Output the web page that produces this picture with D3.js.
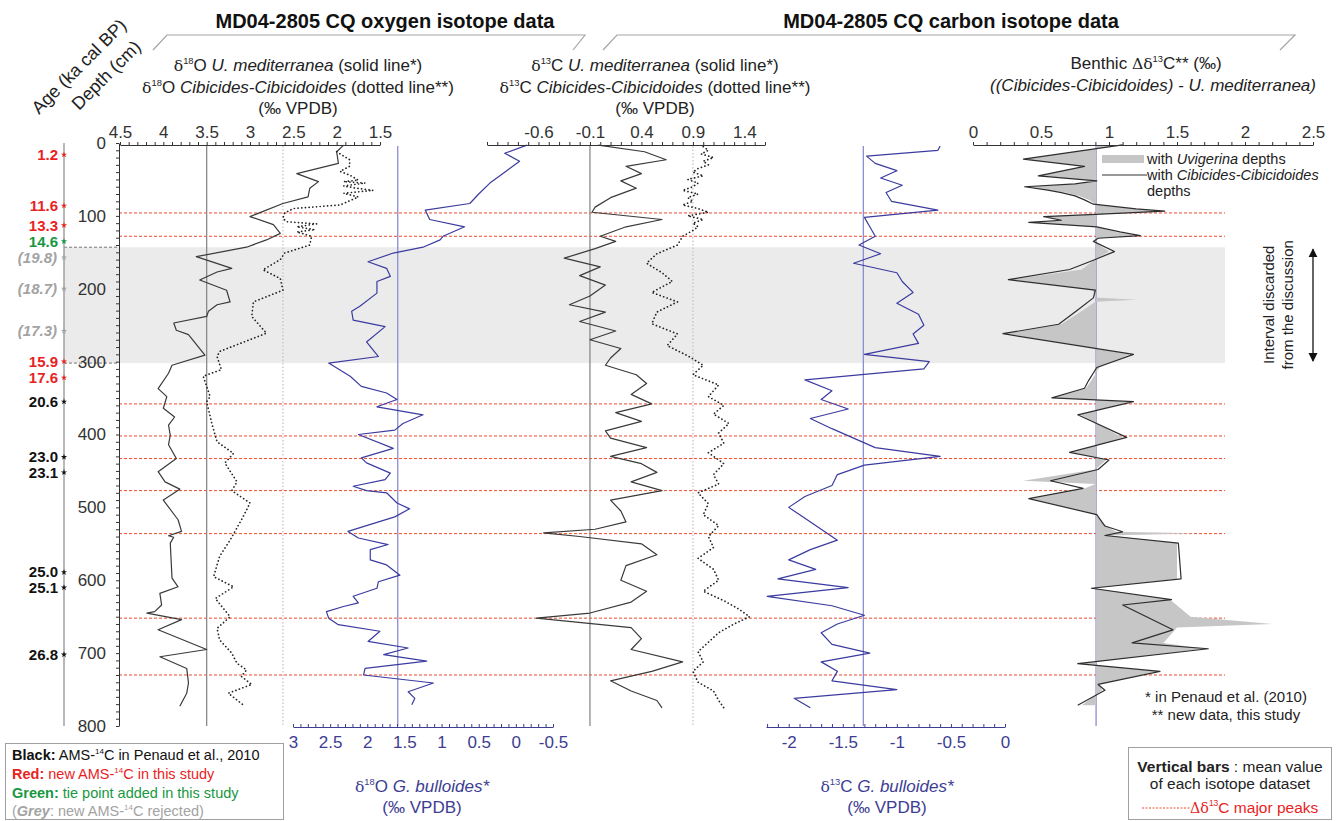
<!DOCTYPE html>
<html>
<head>
<meta charset="utf-8">
<script src="https://cdn.jsdelivr.net/npm/d3@7"></script>
<style>
  body { margin: 0; background: #fff; }
  text { font-family: "Liberation Sans", Arial, sans-serif; }
</style>
</head>
<body>
<svg id="chart" width="1338" height="821"></svg>
<script>
// ---------- data (depth in cm, value) ----------
// d18O U. mediterranea (solid)
var uMedO = [[3,1.92],[12,2.0],[28,1.98],[42,2.46],[53,2.21],[62,2.31],[74,2.33],[83,2.62],[101,3.0],[112,2.73],[124,2.65],[133,2.81],[143,3.04],[156,3.62],[172,3.21],[177,3.38],[188,3.58],[202,3.27],[218,3.23],[222,3.38],[231,3.48],[238,3.5],[247,3.88],[257,3.85],[263,3.71],[291,3.52],[305,3.9],[316,3.94],[337,4.06],[348,3.96],[364,4.0],[376,3.87],[387,3.94],[401,3.92],[414,3.94],[433,3.85],[451,4.06],[465,3.98],[475,3.81],[490,4.0],[517,3.83],[533,3.79],[539,3.94],[541,3.88],[549,3.92],[597,3.9],[609,3.83],[618,4.04],[634,4.02],[643,4.1],[645,4.19],[654,3.79],[668,4.06],[695,3.5],[705,4.04],[721,3.73],[741,3.71],[755,3.73],[773,3.81]];
// d18O Cibicides-Cibicidoides (dotted)
var cibO = [[12,2.0],[23,1.85],[32,1.85],[39,1.96],[44,1.85],[51,1.75],[53,1.92],[55,1.67],[59,1.92],[62,1.77],[65,1.58],[69,1.92],[74,1.75],[85,1.96],[90,2.5],[96,2.6],[103,2.62],[108,2.58],[111,2.23],[115,2.46],[119,2.25],[122,2.46],[128,2.29],[140,2.31],[151,2.6],[160,2.65],[174,2.85],[186,2.65],[202,2.62],[218,2.96],[238,2.98],[261,2.81],[286,3.35],[293,3.38],[311,3.33],[320,3.54],[334,3.5],[348,3.46],[355,3.5],[385,3.44],[410,3.38],[426,3.19],[439,3.29],[465,3.15],[477,3.21],[494,3.0],[513,3.08],[528,3.15],[545,3.23],[567,3.35],[595,3.42],[609,3.19],[625,3.4],[650,3.23],[666,3.38],[682,3.35],[700,3.21],[714,3.15],[723,3.04],[732,3.1],[743,2.98],[755,3.25],[771,3.08]];
// d18O G. bulloides
var bullO = [[3,-0.15],[14,0.15],[25,-0.05],[40,0.15],[55,0.35],[70,0.5],[83,0.62],[92,1.22],[105,1.16],[115,0.69],[128,0.98],[133,1.02],[143,1.25],[151,1.65],[163,1.99],[172,1.74],[183,1.69],[190,1.87],[206,1.87],[224,2.1],[231,2.21],[243,2.19],[252,1.76],[273,2.01],[293,1.85],[302,2.52],[320,2.23],[334,2.08],[343,1.74],[352,1.6],[362,1.87],[373,1.25],[385,1.52],[394,1.63],[400,2.12],[419,1.65],[432,2.08],[439,2.01],[453,1.69],[462,1.76],[471,2.19],[477,2.01],[480,1.74],[494,1.6],[502,1.43],[513,1.63],[533,2.26],[542,2.12],[551,1.72],[558,1.96],[572,1.96],[579,1.74],[593,1.56],[602,1.85],[611,1.87],[622,2.19],[631,2.12],[636,2.32],[643,2.55],[652,2.52],[661,2.39],[670,1.83],[684,1.99],[693,1.45],[702,1.78],[711,1.2],[721,2.03],[730,2.05],[741,1.11],[753,1.45],[762,1.36],[771,1.4]];
// d13C U. mediterranea (solid)
var uMedC = [[3,-0.02],[12,0.43],[23,0.64],[32,0.25],[42,0.4],[52,0.2],[62,0.35],[75,0.1],[88,-0.05],[95,-0.08],[105,0.6],[115,0.25],[128,0.0],[135,0.15],[145,-0.05],[158,-0.35],[170,0.0],[182,-0.2],[195,0.05],[210,-0.1],[222,-0.3],[232,0.05],[245,-0.2],[258,0.15],[270,-0.1],[282,0.2],[295,0.1],[305,0.05],[318,0.35],[330,0.45],[345,0.3],[358,0.5],[370,0.15],[382,0.4],[395,0.05],[405,0.1],[418,0.45],[430,0.1],[440,0.4],[452,0.55],[465,0.3],[477,0.6],[490,0.1],[505,0.2],[520,0.25],[530,-0.05],[535,-0.55],[540,-0.2],[550,0.4],[565,0.55],[580,0.25],[600,0.2],[615,0.45],[630,0.3],[645,-0.1],[652,-0.62],[665,0.3],[680,0.4],[695,0.3],[712,0.8],[725,0.5],[738,0.1],[752,0.3],[765,0.55],[775,0.6]];
// d13C Cibicides-Cibicidoides (dotted)
var cibC = [[5,1.0],[10,1.05],[15,0.98],[20,1.1],[25,1.0],[30,1.05],[35,0.95],[40,0.9],[45,1.0],[50,0.85],[55,0.95],[60,0.9],[65,0.8],[70,0.95],[75,0.85],[80,0.9],[85,0.8],[90,0.95],[95,1.05],[100,0.85],[105,1.0],[110,0.9],[115,0.95],[120,0.9],[128,0.8],[140,0.75],[152,0.55],[165,0.45],[178,0.6],[190,0.7],[205,0.5],[218,0.75],[232,0.55],[248,0.5],[262,0.75],[278,0.65],[292,0.85],[305,1.0],[318,0.9],[332,1.15],[348,1.05],[360,1.2],[372,1.1],[385,1.25],[398,1.15],[412,1.2],[425,1.05],[440,1.2],[455,1.1],[468,1.15],[480,0.95],[495,1.05],[510,1.0],[525,1.15],[540,1.05],[555,1.1],[570,0.95],[585,1.1],[600,1.15],[615,1.0],[628,1.2],[640,1.35],[650,1.45],[660,1.3],[672,1.15],[685,1.05],[698,0.95],[712,1.0],[725,0.9],[740,0.95],[752,1.1],[765,1.15],[775,1.2]];
// d13C G. bulloides
var bullC = [[4,-0.6],[10,-0.62],[18,-1.28],[28,-1.2],[38,-1.0],[48,-1.15],[58,-0.95],[68,-1.1],[80,-1.05],[92,-0.62],[102,-1.3],[115,-1.25],[128,-1.2],[140,-1.35],[152,-1.15],[165,-1.4],[178,-1.0],[190,-0.95],[205,-0.85],[220,-1.0],[235,-0.8],[250,-0.75],[262,-0.85],[275,-0.8],[290,-1.3],[300,-0.7],[310,-0.75],[325,-1.85],[340,-1.6],[352,-1.7],[365,-1.45],[378,-1.8],[392,-1.6],[405,-1.4],[418,-1.2],[430,-0.6],[442,-1.3],[455,-1.55],[470,-1.6],[485,-1.85],[500,-2.0],[515,-1.85],[530,-1.7],[545,-1.55],[558,-1.8],[572,-2.0],[585,-1.75],[598,-2.1],[610,-1.45],[622,-2.2],[635,-1.6],[648,-1.3],[660,-1.55],[672,-1.7],[688,-1.6],[700,-1.25],[712,-1.7],[725,-1.55],[738,-1.6],[750,-1.0],[762,-1.95],[775,-1.8]];
// benthic D13C, Cibicides depths (line)
var dCib = [[2.7,1.1],[22,0.37],[32,0.82],[45,0.48],[52,0.91],[56,0.75],[60,0.38],[64.6,0.55],[68,0.65],[72.6,0.75],[78,0.82],[84,0.885],[90.5,1.2],[93.5,1.41],[98,0.9],[101,0.52],[106,0.65],[109,0.41],[115,0.91],[122,1.08],[127,1.23],[130.7,0.92],[135,0.885],[149,1.04],[160.8,0.885],[173.6,0.71],[187.6,0.26],[202,0.9],[212.5,0.885],[230.6,0.76],[248.7,0.63],[261.7,0.22],[290,1.18],[308,0.91],[326,0.85],[336.5,0.82],[349.7,0.58],[355,1.18],[373,0.77],[404,1.13],[424.6,0.71],[435,1.0],[448,0.92],[463.5,0.57],[474,0.81],[488,0.41],[510,0.91],[525.6,0.97],[533.5,1.1],[538.6,0.97],[549,1.51],[598,1.53],[611,0.87],[626.6,1.46],[634,1.1],[668,1.47],[686,1.17],[694,1.73],[714.5,0.77],[725,1.375],[743,0.92],[751,0.97],[771.6,0.77]];
// benthic D13C, Uvigerina depths (grey area)
var dUvi = [[2.7,1.1],[22,0.37],[32,0.82],[45,0.48],[52,0.91],[56,0.78],[60,0.38],[64.6,0.55],[68,0.68],[72.6,0.78],[78,0.85],[84,0.9],[90.5,1.2],[93.5,1.41],[98,0.9],[101,0.52],[106,0.65],[109,0.41],[115,0.91],[122,1.05],[127,1.2],[130.7,0.92],[135,0.89],[149,1.0],[160.8,0.89],[173.6,0.8],[187.6,0.28],[202,0.88],[212,0.9],[215,1.2],[218,0.9],[230.6,0.8],[248.7,0.65],[261.7,0.24],[290,1.15],[308,0.93],[326,0.87],[336.5,0.83],[349.7,0.6],[355,1.15],[373,0.79],[404,1.1],[424.6,0.73],[435,0.98],[448,0.9],[463.5,0.37],[468,0.9],[474,0.82],[488,0.43],[510,0.9],[525.6,0.98],[533.5,1.05],[535.5,1.65],[538.6,1.0],[549,1.5],[598,1.5],[611,0.9],[626.6,1.45],[650,1.6],[660,2.2],[665,1.5],[686,1.4],[694,1.7],[714.5,0.8],[725,1.35],[743,0.93],[751,0.95],[771.6,0.8]];

// mean values of each dataset
var meanUMedO = 3.5, meanCibO = 2.62, meanBullO = 1.59;
var meanUMedC = -0.1, meanCibC = 0.9, meanBullC = -1.31, meanD13C = 0.905;

// age control points
var ageLabels = ['1.2','11.6','13.3','14.6','(19.8)','(18.7)','(17.3)','15.9','17.6','20.6','23.0','23.1','25.0','25.1','26.8'];
var ageDepths = [16, 86, 113, 135, 157, 200, 258, 300, 322, 355, 431, 452, 589, 610, 702];
var ageKinds  = ['red','red','red','green','grey','grey','grey','red','red','black','black','black','black','black','black'];

var peakDepths = [96, 128, 358, 402, 433, 477, 536, 652, 730];
var discarded = [143, 302];

var depthTicks = [0,100,200,300,400,500,600,700,800];
var oxTicks = [4.5,4,3.5,3,2.5,2,1.5];
var cTicks = [-0.6,-0.1,0.4,0.9,1.4];
var bullOTicks = [3,2.5,2,1.5,1,0.5,0,-0.5];
var bullCTicks = [-2,-1.5,-1,-0.5,0];
var dTicks = [0,0.5,1,1.5,2,2.5];

// ---------- setup ----------
var svg = d3.select('#chart');
var BLUE = '#3b3ba0', AXBLUE = '#3d3d92', MEANBLUE = '#8c8cd2';
var kindColor = { red: '#e8231f', green: '#17983f', grey: '#a3a3a3', black: '#111' };

var y = d3.scaleLinear().domain([0, 800]).range([143, 726]);
var x1 = d3.scaleLinear().domain([4.5, 1.5]).range([120, 380]);
var x2 = d3.scaleLinear().domain([3, -0.5]).range([293, 553]);
var x3 = d3.scaleLinear().domain([-1.1, 1.6]).range([487, 765]);
var x4 = d3.scaleLinear().domain([-2.21, 0]).range([766, 1005]);
var x5 = d3.scaleLinear().domain([0, 2.5]).range([973, 1313]);

// rich text helper: parts with i (italic), b (bold), sup, serif, fill
function rich(g, x, yy, parts, opt) {
  opt = opt || {};
  var size = opt.size || 17;
  var t = g.append('text').attr('x', x).attr('y', yy)
    .attr('text-anchor', opt.anchor || 'middle')
    .attr('font-size', size)
    .attr('fill', opt.fill || '#222');
  var off = 0;
  parts.forEach(function(p) {
    if (typeof p === 'string') p = { t: p };
    var s = t.append('tspan').text(p.t);
    var to = p.sup ? -0.42 * size : 0;
    if (to !== off) s.attr('dy', to - off);
    off = to;
    if (p.sup) s.attr('font-size', size * 0.55);
    if (p.i) s.attr('font-style', 'italic');
    if (p.b) s.attr('font-weight', 'bold');
    if (p.serif) s.style('font-family', '"DejaVu Serif", "Liberation Serif", serif').attr('font-size', size * 0.92);
    if (p.fill) s.attr('fill', p.fill);
  });
  return t;
}

// ---------- background: discarded interval and peaks ----------
svg.append('rect')
  .attr('x', 64).attr('width', 1225 - 64)
  .attr('y', y(discarded[0])).attr('height', y(discarded[1]) - y(discarded[0]))
  .attr('fill', '#ebebeb');

svg.selectAll('.bandEdge').data(discarded).join('line')
  .attr('x1', 64).attr('x2', 119)
  .attr('y1', function(d) { return y(d); }).attr('y2', function(d) { return y(d); })
  .attr('stroke', '#777').attr('stroke-dasharray', '3,2');

svg.selectAll('.peak').data(peakDepths).join('line')
  .attr('x1', 119).attr('x2', 1225)
  .attr('y1', function(d) { return y(d); }).attr('y2', function(d) { return y(d); })
  .attr('stroke', '#ee4a2e').attr('stroke-width', 1).attr('stroke-dasharray', '3,2');

// ---------- mean bars ----------
var means = [
  { x: x1(meanUMedO), c: '#8a8a8a', dash: null },
  { x: x1(meanCibO), c: '#c4c4c4', dash: '1.5,2' },
  { x: x2(meanBullO), c: MEANBLUE, dash: null },
  { x: x3(meanUMedC), c: '#8a8a8a', dash: null },
  { x: x3(meanCibC), c: '#c4c4c4', dash: '1.5,2' },
  { x: x4(meanBullC), c: MEANBLUE, dash: null },
  { x: x5(meanD13C), c: MEANBLUE, dash: null }
];
svg.selectAll('.mean').data(means).join('line')
  .attr('x1', function(d) { return d.x; }).attr('x2', function(d) { return d.x; })
  .attr('y1', 146).attr('y2', 726)
  .attr('stroke', function(d) { return d.c; })
  .attr('stroke-width', 1.3)
  .attr('stroke-dasharray', function(d) { return d.dash; });

// ---------- data curves ----------
function curve(data, xs, color, dotted) {
  var line = d3.line().x(function(d) { return xs(d[1]); }).y(function(d) { return y(d[0]); });
  svg.append('path').datum(data).attr('d', line)
    .attr('fill', 'none')
    .attr('stroke', color)
    .attr('stroke-width', dotted ? 1.7 : 1.2)
    .attr('stroke-linecap', dotted ? 'round' : 'butt')
    .attr('stroke-linejoin', 'round')
    .attr('stroke-dasharray', dotted ? '0.1,3.6' : null);
}

var area = d3.area()
  .y(function(d) { return y(d[0]); })
  .x0(x5(meanD13C))
  .x1(function(d) { return x5(d[1]); });
svg.append('path').datum(dUvi).attr('d', area).attr('fill', '#c6c6c6');

curve(uMedO, x1, '#3a3a3a', false);
curve(cibO, x1, '#222', true);
curve(bullO, x2, BLUE, false);
curve(uMedC, x3, '#3a3a3a', false);
curve(cibC, x3, '#222', true);
curve(bullC, x4, BLUE, false);
curve(dCib, x5, '#2e2e2e', false);

// ---------- axes ----------
function minor(a, b) {
  return d3.range(Math.round(a * 10), Math.round(b * 10) + 1).map(function(v) { return v / 10; });
}
function fmtIn(list) {
  return function(d) {
    var hit = list.some(function(v) { return Math.abs(v - d) < 1e-6; });
    return hit ? String(+d.toFixed(1)) : '';
  };
}
function styleAxis(g, color) {
  g.select('.domain').attr('stroke', color);
  g.selectAll('.tick line').attr('stroke', color);
  g.selectAll('.tick text').attr('fill', color).attr('font-size', 17)
    .style('font-family', '"Liberation Sans", Arial, sans-serif');
}

// depth axis
var depthAxis = svg.append('g').attr('transform', 'translate(119,0)')
  .call(d3.axisLeft(y).tickValues(d3.range(0, 801, 10)).tickSizeInner(3).tickSizeOuter(0).tickPadding(10)
    .tickFormat(function(d) { return depthTicks.indexOf(d) >= 0 ? d : ''; }));
styleAxis(depthAxis, '#333');

// top axes
[[x1, 1.5, 4.5, oxTicks], [x3, -1.1, 1.6, cTicks], [x5, 0, 2.5, dTicks]].forEach(function(a) {
  var g = svg.append('g').attr('transform', 'translate(0,145)')
    .call(d3.axisTop(a[0]).tickValues(minor(a[1], a[2])).tickSizeInner(3).tickSizeOuter(0).tickPadding(4)
      .tickFormat(fmtIn(a[3])));
  styleAxis(g, '#333');
});

// bottom axes (G. bulloides)
[[x2, -0.5, 3, bullOTicks], [x4, -2.2, 0, bullCTicks]].forEach(function(a) {
  var g = svg.append('g').attr('transform', 'translate(0,727)')
    .call(d3.axisBottom(a[0]).tickValues(minor(a[1], a[2])).tickSizeInner(-3).tickSizeOuter(0).tickPadding(9)
      .tickFormat(fmtIn(a[3])));
  styleAxis(g, AXBLUE);
});

// age axis
svg.append('line').attr('x1', 64).attr('x2', 64).attr('y1', 143).attr('y2', 726)
  .attr('stroke', '#a0a0a0').attr('stroke-width', 1.5);

var ages = svg.append('g');
ageLabels.forEach(function(lab, i) {
  var kind = ageKinds[i];
  var grey = kind === 'grey';
  ages.append('text')
    .attr('x', grey ? 57 : 58).attr('y', y(ageDepths[i])).attr('dy', '0.35em')
    .attr('text-anchor', 'end')
    .attr('font-size', 15).attr('font-weight', 'bold')
    .attr('font-style', grey ? 'italic' : null)
    .attr('fill', kindColor[kind])
    .text(lab);
  ages.append('path')
    .attr('d', d3.symbol(d3.symbolStar, 12)())
    .attr('transform', 'translate(64,' + y(ageDepths[i]) + ')')
    .attr('fill', kindColor[kind]);
});

// ---------- headers ----------
svg.append('text').attr('x', 385).attr('y', 28).attr('text-anchor', 'middle')
  .attr('font-size', 20).attr('font-weight', 'bold').attr('fill', '#111')
  .text('MD04-2805 CQ oxygen isotope data');
svg.append('text').attr('x', 951).attr('y', 28).attr('text-anchor', 'middle')
  .attr('font-size', 20).attr('font-weight', 'bold').attr('fill', '#111')
  .text('MD04-2805 CQ carbon isotope data');

var bracket = d3.line();
svg.append('path').attr('d', bracket([[153, 50], [167, 35], [585, 35], [573, 50]]))
  .attr('fill', 'none').attr('stroke', '#a5a5a5').attr('stroke-width', 1.2);
svg.append('path').attr('d', bracket([[603, 50], [617, 35], [1295, 35], [1280, 50]]))
  .attr('fill', 'none').attr('stroke', '#a5a5a5').attr('stroke-width', 1.2);

svg.append('text').attr('transform', 'translate(39,115) rotate(-45)')
  .attr('font-size', 18).attr('fill', '#222').text('Age (ka cal BP)');
svg.append('text').attr('transform', 'translate(79,111) rotate(-45)')
  .attr('font-size', 18).attr('fill', '#222').text('Depth (cm)');

var hdr = svg.append('g');
rich(hdr, 298, 71, [{ t: 'δ', serif: true }, { t: '18', sup: true }, 'O ', { t: 'U. mediterranea', i: true }, ' (solid line*)']);
rich(hdr, 298, 93, [{ t: 'δ', serif: true }, { t: '18', sup: true }, 'O ', { t: 'Cibicides-Cibicidoides', i: true }, ' (dotted line**)']);
rich(hdr, 298, 114, ['(‰ VPDB)']);
rich(hdr, 655, 71, [{ t: 'δ', serif: true }, { t: '13', sup: true }, 'C ', { t: 'U. mediterranea', i: true }, ' (solid line*)']);
rich(hdr, 655, 93, [{ t: 'δ', serif: true }, { t: '13', sup: true }, 'C ', { t: 'Cibicides-Cibicidoides', i: true }, ' (dotted line**)']);
rich(hdr, 655, 114, ['(‰ VPDB)']);
rich(hdr, 1146, 69, ['Benthic ', { t: 'Δδ', serif: true }, { t: '13', sup: true }, 'C** (‰)']);
rich(hdr, 1153, 91, [{ t: '((Cibicides-Cibicidoides) - U. mediterranea)', i: true }]);

rich(hdr, 422, 792, [{ t: 'δ', serif: true }, { t: '18', sup: true }, 'O ', { t: 'G. bulloides*', i: true }], { fill: AXBLUE });
rich(hdr, 422, 813, ['(‰ VPDB)'], { fill: AXBLUE });
rich(hdr, 887, 792, [{ t: 'δ', serif: true }, { t: '13', sup: true }, 'C ', { t: 'G. bulloides*', i: true }], { fill: AXBLUE });
rich(hdr, 887, 813, ['(‰ VPDB)'], { fill: AXBLUE });

// D13C legend
svg.append('rect').attr('x', 1102).attr('y', 155).attr('width', 42).attr('height', 8).attr('fill', '#c6c6c6');
svg.append('line').attr('x1', 1102).attr('x2', 1147).attr('y1', 175).attr('y2', 175).attr('stroke', '#333').attr('stroke-width', 1.2);
rich(hdr, 1147, 164, ['with ', { t: 'Uvigerina', i: true }, ' depths'], { anchor: 'start', size: 14.5 });
rich(hdr, 1147, 180, ['with ', { t: 'Cibicides-Cibicidoides', i: true }], { anchor: 'start', size: 14.5 });
rich(hdr, 1147, 196, ['depths'], { anchor: 'start', size: 14.5 });

// discarded interval arrow
svg.append('defs').append('marker').attr('id', 'ah').attr('viewBox', '0 0 10 10')
  .attr('refX', 9).attr('refY', 5).attr('markerWidth', 7).attr('markerHeight', 7).attr('orient', 'auto-start-reverse')
  .append('path').attr('d', 'M0,0L10,5L0,10z').attr('fill', '#111');
svg.append('line').attr('x1', 1313).attr('x2', 1313).attr('y1', y(discarded[0]) + 2).attr('y2', y(discarded[1]) - 2)
  .attr('stroke', '#111').attr('stroke-width', 1.3)
  .attr('marker-start', 'url(#ah)').attr('marker-end', 'url(#ah)');
rich(hdr, 0, 0, ['Interval discarded'], { size: 15 }).attr('transform', 'translate(1274,' + y(222) + ') rotate(-90)');
rich(hdr, 0, 0, ['from the discussion'], { size: 15 }).attr('transform', 'translate(1293,' + y(222) + ') rotate(-90)');

// footnotes
rich(hdr, 1226, 702, ['* in Penaud et al. (2010)'], { size: 15 });
rich(hdr, 1226, 720, ['** new data, this study'], { size: 15 });

// right legend box
hdr.append('rect').attr('x', 1128.5).attr('y', 747.5).attr('width', 203).attr('height', 72)
  .attr('fill', '#fff').attr('stroke', '#a0a0a0');
rich(hdr, 1230, 772, [{ t: 'Vertical bars', b: true }, ' : mean value'], { size: 15.5 });
rich(hdr, 1230, 789, ['of each isotope dataset'], { size: 15.5 });
hdr.append('line').attr('x1', 1142).attr('x2', 1190).attr('y1', 808).attr('y2', 808)
  .attr('stroke', '#ee4a2e').attr('stroke-dasharray', '2,1.5');
rich(hdr, 1190, 813, [{ t: 'Δδ', serif: true }, { t: '13', sup: true }, 'C major peaks'], { anchor: 'start', size: 15.5, fill: '#e8231f' });

// left legend box
hdr.append('rect').attr('x', 5.5).attr('y', 743.5).attr('width', 278).attr('height', 76)
  .attr('fill', '#fff').attr('stroke', '#a0a0a0');
rich(hdr, 12, 760, [{ t: 'Black:', b: true }, ' AMS-', { t: '14', sup: true }, 'C in Penaud et al., 2010'], { anchor: 'start', size: 14.5, fill: '#111' });
rich(hdr, 12, 779, [{ t: 'Red:', b: true }, ' new AMS-', { t: '14', sup: true }, 'C in this study'], { anchor: 'start', size: 14.5, fill: '#e8231f' });
rich(hdr, 12, 798, [{ t: 'Green:', b: true }, ' tie point added in this study'], { anchor: 'start', size: 14.5, fill: '#17983f' });
rich(hdr, 12, 816, ['(', { t: 'Grey', b: true, i: true }, ': new AMS-', { t: '14', sup: true }, 'C rejected)'], { anchor: 'start', size: 14.5, fill: '#a3a3a3' });
</script>
</body>
</html>
